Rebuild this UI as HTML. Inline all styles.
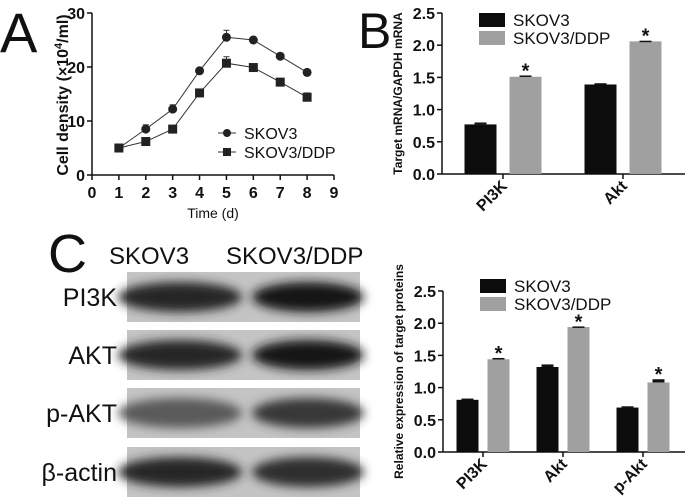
<!DOCTYPE html>
<html><head><meta charset="utf-8"><style>
body{margin:0;background:#fff;width:688px;height:504px;overflow:hidden;font-family:"Liberation Sans",sans-serif}
svg{position:absolute;left:0;top:0}
.t{font-family:"Liberation Sans",sans-serif;font-weight:bold;font-size:15px;fill:#111}
.n{font-family:"Liberation Sans",sans-serif;font-size:16px;fill:#111}
</style></head><body>
<svg id="s" width="688" height="504">
 <defs>
  <filter id="bl" x="-30%" y="-60%" width="160%" height="220%"><feGaussianBlur stdDeviation="5"/></filter>
 </defs>
 <text x="0" y="52" font-size="56" font-family="Liberation Sans" fill="#111">A</text>
 <text x="358" y="48" font-size="50" font-family="Liberation Sans" fill="#111">B</text>
 <text x="48" y="272" font-size="54" font-family="Liberation Sans" fill="#111">C</text>
 <g id="blots"></g>
 <g id="ga"></g>
 <g id="gb"></g>
 <g id="gc"></g>
</svg>
<script>
const NS="http://www.w3.org/2000/svg";
function mk(p,tag,at,txt){const e=document.createElementNS(NS,tag);for(const k in at)e.setAttribute(k,at[k]);if(txt!==undefined)e.textContent=txt;p.appendChild(e);return e;}

// Panel A data
const daysA=[1,2,3,4,5,6,7,8];
const skovA=[5,8.5,12.2,19.3,25.5,25,22,19];
const skovErrA=[0.3,0.8,0.8,0.5,1.3,0.4,0.5,0.4];
const ddpA=[5,6.2,8.5,15.2,20.7,19.9,17.2,14.4];
const ddpErrA=[0.3,0.3,0.4,0.5,1.2,0.6,0.5,0.8];
const xTicksA=[0,1,2,3,4,5,6,7,8,9];
const yTicksA=[0,10,20,30];
// Panel B data
const catsB=["PI3K","Akt"];
const skovB=[0.77,1.39];
const ddpB=[1.51,2.06];
const skovErrB=[0.03,0.02];
const ddpErrB=[0.02,0.01];
const yTicksB=["0.0","0.5","1.0","1.5","2.0","2.5"];
// Panel C data
const catsC=["PI3K","Akt","p-Akt"];
const skovC=[0.81,1.32,0.69];
const ddpC=[1.44,1.94,1.08];
const skovErrC=[0.02,0.04,0.02];
const ddpErrC=[0.02,0.01,0.05];
const yTicksC=["0.0","0.5","1.0","1.5","2.0","2.5"];
const blotLabels=["PI3K","AKT","p-AKT","β-actin"];
const blotIntensity=[[0.9,1.0],[0.9,1.0],[0.6,0.8],[0.9,0.85]];

// ---- Panel A ----
const ga=document.getElementById('ga');
const ax=v=>92+v*(334-92)/9, ay=v=>175-v*(175-13)/30;
mk(ga,'line',{x1:92,y1:13,x2:92,y2:175,stroke:'#111','stroke-width':1.5});
mk(ga,'line',{x1:92,y1:175,x2:334,y2:175,stroke:'#111','stroke-width':1.5});
yTicksA.forEach(v=>{mk(ga,'line',{x1:87,y1:ay(v),x2:92,y2:ay(v),stroke:'#111','stroke-width':1.5});
 const t=mk(ga,'text',{x:85,y:ay(v)+6,'text-anchor':'end',class:'t',style:'font-size:16px'},v);
 
 });
xTicksA.forEach(v=>{mk(ga,'line',{x1:ax(v),y1:175,x2:ax(v),y2:180,stroke:'#111','stroke-width':1.5});
 const t=mk(ga,'text',{x:ax(v),y:198,'text-anchor':'middle',class:'t',style:'font-size:16px'},v);
 
 });
const xt=mk(ga,'text',{x:213,y:218,'text-anchor':'middle',class:'n',style:'font-size:14px'},'Time (d)');


const yt=mk(ga,'text',{transform:'translate(68,95) rotate(-90)','text-anchor':'middle',class:'t',style:'font-size:16px'});


yt.innerHTML='Cell density (×10<tspan dy="-6" font-size="11">4</tspan><tspan dy="6">/ml)</tspan>';
function series(vals,errs,sq,name){
 const g=mk(ga,'g',{});
 
 
 mk(g,'polyline',{points:vals.map((v,i)=>ax(daysA[i])+','+ay(v)).join(' '),fill:'none',stroke:'#333','stroke-width':1});
 vals.forEach((v,i)=>{const x=ax(daysA[i]),y=ay(v);
  mk(g,'line',{x1:x,y1:y,x2:x,y2:ay(v+errs[i]),stroke:'#333'});
  mk(g,'line',{x1:x-3,y1:ay(v+errs[i]),x2:x+3,y2:ay(v+errs[i]),stroke:'#333'});
  const m=sq?mk(g,'rect',{x:x-4.5,y:y-4.5,width:9,height:9,fill:'#222'}):mk(g,'circle',{cx:x,cy:y,r:4.5,fill:'#222'});
  
  });
}
series(skovA,skovErrA,false,'series-skov3');
series(ddpA,ddpErrA,true,'series-skov3-ddp');
const lgA=mk(ga,'g',{});


mk(lgA,'line',{x1:218,y1:133,x2:236,y2:133,stroke:'#333'});mk(lgA,'circle',{cx:227,cy:133,r:4,fill:'#222'});
mk(lgA,'text',{x:244,y:139,class:'n'},'SKOV3');
mk(lgA,'line',{x1:218,y1:152,x2:236,y2:152,stroke:'#333'});mk(lgA,'rect',{x:223,y:148,width:8,height:8,fill:'#222'});
mk(lgA,'text',{x:244,y:158,class:'n'},'SKOV3/DDP');

// ---- Bar charts ----
function barChart(g,cfg){
 const y=v=>cfg.y0-v*(cfg.y0-cfg.y1)/2.5;
 mk(g,'line',{x1:cfg.x0,y1:cfg.y1,x2:cfg.x0,y2:cfg.y0,stroke:'#111','stroke-width':1.5});
 mk(g,'line',{x1:cfg.x0,y1:cfg.y0,x2:cfg.xe,y2:cfg.y0,stroke:'#111','stroke-width':1.5});
 cfg.ticks.forEach((s,i)=>{const v=parseFloat(s);
  mk(g,'line',{x1:cfg.x0-5,y1:y(v),x2:cfg.x0,y2:y(v),stroke:'#111','stroke-width':1.5});
  const t=mk(g,'text',{x:cfg.x0-7,y:y(v)+6,'text-anchor':'end',class:'t',style:'font-size:16px'},s);
  
  });
 const yt=mk(g,'text',{transform:`translate(${cfg.x0-40},${(cfg.y0+cfg.y1)/2}) rotate(-90)`,'text-anchor':'middle',class:'t',style:'font-size:12px'},cfg.ytitle);
 
 
 cfg.cats.forEach((c,i)=>{
  const cx=cfg.c0+i*cfg.step;
  [[cfg.a,cfg.ae,'#0c0c0c',cx-cfg.bw-cfg.gap/2,'bar-skov3-'],[cfg.b,cfg.be,'#a0a0a0',cx+cfg.gap/2,'bar-skov3-ddp-']].forEach(([vals,errs,col,x,nm])=>{
   const v=vals[i];
   const r=mk(g,'rect',{x:x,y:y(v),width:cfg.bw,height:cfg.y0-y(v),fill:col});
   
   
   mk(g,'rect',{x:x+cfg.bw/2-6,y:y(v+errs[i]),width:12,height:Math.max(1.5,y(v)-y(v+errs[i])),fill:'#111'});
  });
  const bx=cx+cfg.gap/2+cfg.bw/2, v=cfg.b[i]+cfg.be[i];
  mk(g,'text',{x:bx,y:y(v)+2,'text-anchor':'middle',class:'t',style:'font-size:20px'},'*');
  mk(g,'line',{x1:cx,y1:cfg.y0,x2:cx,y2:cfg.y0+5,stroke:'#111','stroke-width':1.5});
  const t=mk(g,'text',{transform:`translate(${cx+5},${cfg.y0+13}) rotate(-45)`,'text-anchor':'end',class:'t',style:'font-size:16px'},c);
  
  
 });
 const lg=mk(g,'g',{});
 
 
 mk(lg,'rect',{x:cfg.lx,y:cfg.ly,width:26,height:14,fill:'#0c0c0c'});
 mk(lg,'text',{x:cfg.lx+34,y:cfg.ly+13,class:'n',style:'font-size:17px'},'SKOV3');
 mk(lg,'rect',{x:cfg.lx,y:cfg.ly+18,width:26,height:14,fill:'#a0a0a0'});
 mk(lg,'text',{x:cfg.lx+34,y:cfg.ly+31,class:'n',style:'font-size:17px'},'SKOV3/DDP');
}
barChart(document.getElementById('gb'),{x0:442,xe:685,y0:174,y1:13,ticks:yTicksB,cats:catsB,a:skovB,b:ddpB,ae:skovErrB,be:ddpErrB,c0:503,step:120,bw:32,gap:13,lx:479,ly:13,ytitle:'Target mRNA/GAPDH mRNA'});
barChart(document.getElementById('gc'),{x0:443,xe:685,y0:452,y1:291,ticks:yTicksC,cats:catsC,a:skovC,b:ddpC,ae:skovErrC,be:ddpErrC,c0:483,step:80,bw:22,gap:9,lx:480,ly:279,ytitle:'Relative  expression of target proteins'});

// ---- Blots ----
const gbl=document.getElementById('blots');
mk(gbl,'text',{x:109,y:264,'font-size':24,'font-family':'Liberation Sans',fill:'#111'},'SKOV3');
mk(gbl,'text',{x:226,y:264,'font-size':24,'font-family':'Liberation Sans',fill:'#111'},'SKOV3/DDP');
const stripY=[272,330,388,447];
blotLabels.forEach((lab,i)=>{
 const y=stripY[i];
 const g=mk(gbl,'g',{});
 
 
 mk(g,'rect',{x:127,y:y,width:233,height:50,fill:'#c4c4c4'});
 [[180,124],[308,112]].forEach(([cx,w],j)=>{
  const k=blotIntensity[i][j], c=Math.round(195-k*175);
  mk(g,'ellipse',{cx:cx,cy:y+25,rx:w/2,ry:15,fill:`rgb(${c},${c},${c})`,filter:'url(#bl)'});
 });
 const t=mk(gbl,'text',{x:117,y:y+34,'text-anchor':'end','font-size':25,'font-family':'Liberation Sans',fill:'#111'},lab);
 
 
});
</script>
</body></html>
